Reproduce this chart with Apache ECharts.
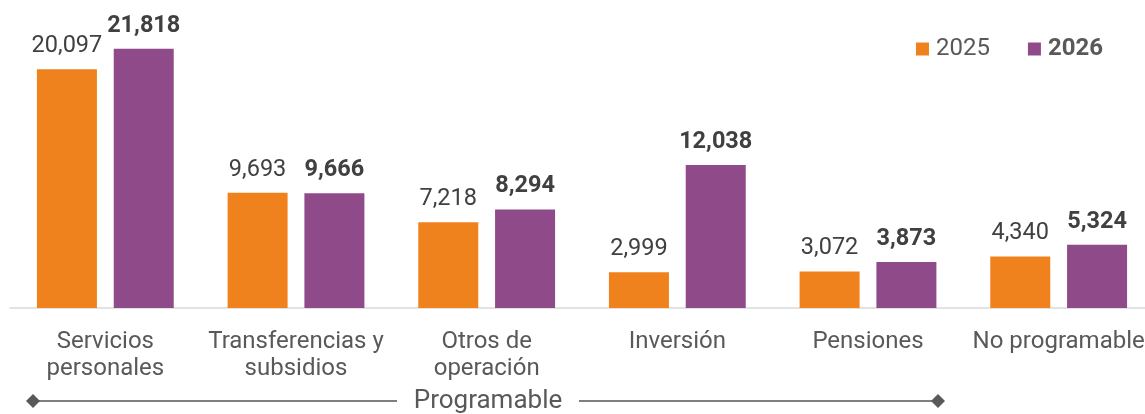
<!DOCTYPE html>
<html>
<head>
<meta charset="utf-8">
<script src="https://cdn.jsdelivr.net/npm/echarts@6/dist/echarts.min.js"></script>
<style>
	html, body { margin: 0; padding: 0; background: #fff; }
	#gastoChart { width: 1145px; height: 414px; }
</style>
</head>
<body>
<div id="gastoChart"></div>
<script>
// categorias del gasto
var categorias = ["Servicios\npersonales", "Transferencias y\nsubsidios", "Otros de\noperación", "Inversión", "Pensiones", "No programable"];
var serie2025 = [20097, 9693, 7218, 2999, 3072, 4340];
var serie2026 = [21818, 9666, 8294, 12038, 3873, 5324];
var nombres = ["2025", "2026"];

var naranja = "#F0821E";
var morado = "#8E4A89";
var fuente = "Roboto";

function formato(v){
	return v.toLocaleString("en-US");
}

var chart = echarts.init(document.getElementById("gastoChart"));
var option = {
	animation: false,
	textStyle: { fontFamily: fuente },
	legend: {
		data: nombres,
		right: 37,
		top: 32,
		itemWidth: 13,
		itemHeight: 13,
		itemGap: 38,
		icon: "rect",
		formatter: function(name){
			return name == "2026" ? "{b|" + name + "}" : "{n|" + name + "}";
		},
		textStyle: {
			color: "#595959",
			fontSize: 24,
			padding: [0, 0, 0, 2],
			rich: {
				n: { fontSize: 24, color: "#595959", fontFamily: fuente },
				b: { fontSize: 24, color: "#595959", fontWeight: "bold", fontFamily: fuente }
			}
		}
	},
	grid: {
		left: 10,
		right: -9,
		top: 11,
		bottom: 106,
		containLabel: false,
		outerBoundsMode: "none"
	},
	xAxis: {
		type: "category",
		data: categorias,
		axisTick: { show: false },
		axisLine: { lineStyle: { color: "#D9D9D9", width: 1.5 } },
		axisLabel: {
			interval: 0,
			margin: 20,
			color: "#595959",
			fontSize: 24,
			lineHeight: 27,
			fontFamily: fuente
		}
	},
	yAxis: {
		type: "value",
		min: 0,
		max: 25000,
		show: false,
		splitLine: { show: false }
	},
	series: [
		{
			name: nombres[0],
			type: "bar",
			data: serie2025,
			barWidth: 60,
			barGap: "28%",
			itemStyle: { color: naranja },
			label: {
				show: true,
				position: "top",
				distance: 11,
				color: "#404040",
				fontSize: 23.5,
				fontFamily: fuente,
				formatter: function(p){ return formato(p.value); }
			}
		},
		{
			name: nombres[1],
			type: "bar",
			data: serie2026,
			barWidth: 60,
			barGap: "28%",
			itemStyle: { color: morado },
			label: {
				show: true,
				position: "top",
				distance: 11,
				color: "#404040",
				fontSize: 23.5,
				fontWeight: "bold",
				fontFamily: fuente,
				formatter: function(p){ return formato(p.value); }
			}
		}
	],
	// llave de "Programable"
	graphic: [
		{ type: "line", shape: { x1: 33, y1: 401, x2: 397, y2: 401 }, style: { stroke: "#7F7F7F", lineWidth: 2 } },
		{ type: "line", shape: { x1: 579, y1: 401, x2: 938, y2: 401 }, style: { stroke: "#7F7F7F", lineWidth: 2 } },
		{ type: "polygon", shape: { points: [[26, 401], [33, 394], [40, 401], [33, 408]] }, style: { fill: "#595959" } },
		{ type: "polygon", shape: { points: [[931, 401], [938, 394], [945, 401], [938, 408]] }, style: { fill: "#595959" } },
		{ type: "text", x: 488, y: 401, style: { text: "Programable", fill: "#595959", font: "26px Roboto", textAlign: "center", textVerticalAlign: "middle" } }
	]
};
chart.setOption(option);
</script>
</body>
</html>
